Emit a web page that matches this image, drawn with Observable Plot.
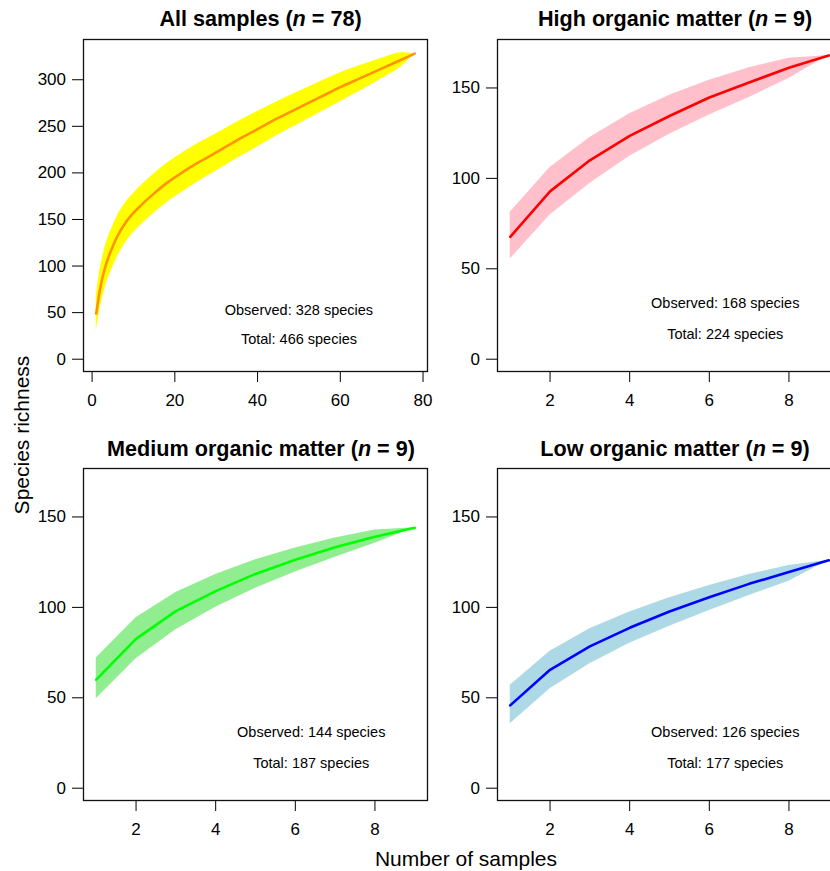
<!DOCTYPE html>
<html>
<head>
<meta charset="utf-8">
<script src="https://cdn.jsdelivr.net/npm/d3@7"></script>
<script src="https://cdn.jsdelivr.net/npm/@observablehq/plot@0.6"></script>
<style>
  html, body { margin: 0; padding: 0; background: #fff; }
  #wrap { position: relative; width: 830px; height: 871px; overflow: hidden; background: #fff;
          font-family: "Liberation Sans", Arial, Helvetica, sans-serif; }
  .panel { position: absolute; }
  #overlay { position: absolute; left: 0; top: 0; pointer-events: none; }
</style>
</head>
<body>
<div id="wrap"><svg id="overlay" width="830" height="871"></svg></div>
<script>
// ---------- data ----------
const panelTitles = ["All samples", "High organic matter", "Medium organic matter", "Low organic matter"];
const panelN = [78, 9, 9, 9];
const observedSpecies = [328, 168, 144, 126];
const totalSpecies = [466, 224, 187, 177];

// All samples (n = 78)
const allX     = [1, 2, 3, 4, 5, 6, 8, 10, 12, 15, 18, 22, 26, 30, 35, 40, 45, 50, 55, 60, 65, 70, 75, 78];
const allMean  = [49, 77, 96, 110, 121, 131, 146, 157, 166, 178, 189, 201, 212, 222, 235, 247, 259, 270, 281, 292, 302, 312, 322, 328];
const allUpper = [68, 98, 118, 132, 143, 153, 167.5, 178, 187, 199, 210, 222, 232.5, 242, 254.5, 266, 277, 287.5, 297.5, 307.5, 315.5, 323, 329, 328];
const allLower = [30, 56, 74, 88, 99, 109, 124.5, 136, 145, 157, 168, 180, 191.5, 202, 215.5, 228, 241, 252.5, 264.5, 276.5, 288.5, 301, 315, 328];

// 9-sample panels
const nineX = [1, 2, 3, 4, 5, 6, 7, 8, 9];
const highMean  = [67.7, 92.8, 110, 123.5, 134.5, 144.7, 153, 161.2, 168];
const highUpper = [81.2, 106, 122.6, 135.8, 146, 154.2, 161.2, 166.4, 168];
const highLower = [55.4, 79.7, 97.2, 112.3, 124.4, 135.1, 144.7, 155.3, 168];

const medMean  = [60, 82.6, 97.9, 109, 118.5, 126.3, 133.3, 139.1, 144];
const medUpper = [72, 94.2, 108.2, 118.2, 126.3, 132.9, 138.4, 142.8, 144];
const medLower = [49.5, 71.6, 87.6, 100.1, 110.6, 119.5, 127.7, 135.5, 144];

const lowMean  = [45.8, 65.5, 78.4, 88.7, 97.7, 105.6, 113, 119.5, 126];
const lowUpper = [56.9, 75.8, 88.2, 97.4, 105.3, 112.1, 118.2, 123.1, 126];
const lowLower = [35.7, 55, 68.8, 80.2, 89.5, 98.3, 106.6, 114.5, 126];

// axis ticks and limits
const allXTicks = [0, 20, 40, 60, 80];
const nineXTicks = [2, 4, 6, 8];
const allYTicks = [0, 50, 100, 150, 200, 250, 300];
const nineYTicks = [0, 50, 100, 150];
const yLimitTop = [330, 170, 170, 170];

// annotation positions (data units)
const noteX = [50, 6.4, 6.4, 6.4];
const noteObsY = [52, 31, 31, 31];
const noteTotY = [21.5, 13.6, 13.6, 13.6];

// colours
const bandColors = ["#FFFF00", "#FFC0CB", "#90EE90", "#ADD8E6"];
const lineColors = ["#FF9400", "#FF0000", "#00FF00", "#0000FF"];

// ---------- build ----------
const FONT = '"Liberation Sans", Arial, Helvetica, sans-serif';
const series = [
  {x: allX, mean: allMean, hi: allUpper, lo: allLower, xt: allXTicks, yt: allYTicks, curve: "monotone-x"},
  {x: nineX, mean: highMean, hi: highUpper, lo: highLower, xt: nineXTicks, yt: nineYTicks, curve: "linear"},
  {x: nineX, mean: medMean, hi: medUpper, lo: medLower, xt: nineXTicks, yt: nineYTicks, curve: "linear"},
  {x: nineX, mean: lowMean, hi: lowUpper, lo: lowLower, xt: nineXTicks, yt: nineYTicks, curve: "linear"}
];
const pos = [[0, 0], [414, 0], [0, 429], [414, 429]];

function extend(lo, hi) { const d = (hi - lo) * 0.04; return [lo - d, hi + d]; }

const wrap = document.getElementById("wrap");
series.forEach((s, i) => {
  const rows = s.x.map((x, j) => ({x, mean: s.mean[j], hi: s.hi[j], lo: s.lo[j]}));
  const notes = [
    {x: noteX[i], y: noteObsY[i], t: `Observed: ${observedSpecies[i]} species`},
    {x: noteX[i], y: noteTotY[i], t: `Total: ${totalSpecies[i]} species`}
  ];
  const chart = Plot.plot({
    width: 431, height: 411,
    marginLeft: 83, marginRight: 4, marginTop: 39, marginBottom: 40,
    style: {fontFamily: FONT, fontSize: "17px", color: "#000", background: "transparent", overflow: "visible"},
    x: {domain: extend(d3.min(s.x), d3.max(s.x)), label: null},
    y: {domain: extend(0, yLimitTop[i]), label: null},
    marks: [
      Plot.areaY(rows, {x: "x", y1: "lo", y2: "hi", fill: bandColors[i], curve: s.curve}),
      Plot.lineY(rows, {x: "x", y: "mean", stroke: lineColors[i], strokeWidth: 2.6, curve: s.curve}),
      Plot.text(notes, {x: "x", y: "y", text: "t", fontSize: 14.5, fill: "#000", textAnchor: "middle"}),
      Plot.axisX({ticks: s.xt, tickSize: 11, tickPadding: 11, fontSize: 17, label: null}),
      Plot.axisY({ticks: s.yt, tickSize: 11, tickPadding: 6.5, fontSize: 17, label: null}),
      Plot.frame({stroke: "#111", strokeWidth: 1.3})
    ]
  });
  chart.classList.add("panel");
  chart.style.left = pos[i][0] + "px";
  chart.style.top = pos[i][1] + "px";
  wrap.insertBefore(chart, document.getElementById("overlay"));
});

// titles and axis titles (real text)
const ov = d3.select("#overlay").style("font-family", FONT);
const titleCx = [260.5, 675, 261, 675];
const titleBase = [26, 26, 456, 456];
panelTitles.forEach((t, i) => {
  const tx = ov.append("text").attr("x", titleCx[i]).attr("y", titleBase[i])
    .attr("text-anchor", "middle").attr("font-size", 21.6).attr("font-weight", "bold");
  tx.append("tspan").text(t + " (");
  tx.append("tspan").attr("font-style", "italic").text("n");
  tx.append("tspan").text(` = ${panelN[i]})`);
});
ov.append("text").attr("transform", "translate(28.5,435) rotate(-90)")
  .attr("text-anchor", "middle").attr("font-size", 21).text("Species richness");
ov.append("text").attr("x", 466).attr("y", 866)
  .attr("text-anchor", "middle").attr("font-size", 21).text("Number of samples");
</script>
</body>
</html>
